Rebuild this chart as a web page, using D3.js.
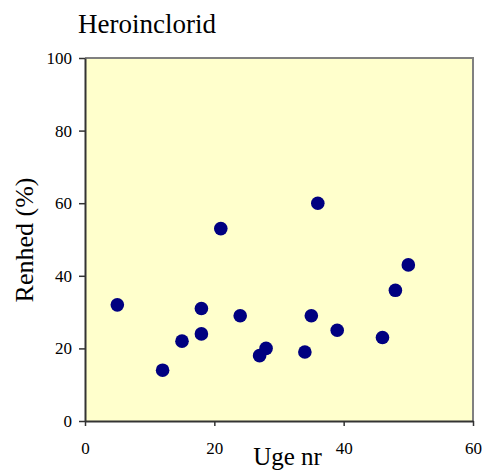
<!DOCTYPE html>
<html>
<head>
<meta charset="utf-8">
<script src="https://cdn.jsdelivr.net/npm/d3@7"></script>
<style>
  html, body { margin: 0; padding: 0; background: #fff; }
  svg { display: block; }
  svg text { font-family: "Liberation Serif", "Times New Roman", "DejaVu Serif", serif !important; fill: #000; }
</style>
</head>
<body>
<svg id="chart" width="484" height="473"></svg>
<script>
const title = "Heroinclorid";
const xLabel = "Uge nr";
const yLabel = "Renhed (%)";
const weeks  = [5, 12, 15, 18, 18, 21, 24, 27, 28, 34, 35, 36, 39, 46, 48, 50];
const purity = [32, 14, 22, 24, 31, 53, 29, 18, 20, 19, 29, 60, 25, 23, 36, 43];
const xTicks = [0, 20, 40, 60];
const yTicks = [0, 20, 40, 60, 80, 100];

const svg = d3.select("#chart");
const L = 85, R = 473, T = 58, B = 421;
const serif = '"Liberation Serif", "Times New Roman", serif';

const x = d3.scaleLinear().domain([0, 60]).range([L, R]);
const y = d3.scaleLinear().domain([0, 100]).range([B, T]);

// plot background
svg.append("rect").attr("x", L).attr("y", T).attr("width", R - L).attr("height", B - T)
  .attr("fill", "#FFFFCC");
// top & right border (gray)
svg.append("path").attr("d", `M${L},${T}H${R}V${B}`).attr("fill", "none")
  .attr("stroke", "#808080").attr("stroke-width", 2);

// axes
const yAxis = d3.axisLeft(y).tickValues(yTicks).tickSize(6).tickPadding(7).tickSizeOuter(0);
const gy = svg.append("g").attr("transform", `translate(${L},0)`).call(yAxis)
  .attr("font-family", serif).attr("font-size", 17);
gy.select(".domain").attr("stroke", "#333").attr("stroke-width", 2);
gy.selectAll(".tick line").attr("stroke", "#333").attr("stroke-width", 1.5);
gy.selectAll(".tick text").style("font-size", "17px").style("font-family", serif).attr("fill", "#000");

const xAxis = d3.axisBottom(x).tickValues(xTicks).tickSize(5).tickPadding(16).tickSizeOuter(0);
const gx = svg.append("g").attr("transform", `translate(0,${B})`).call(xAxis)
  .attr("font-family", serif).attr("font-size", 17);
gx.select(".domain").attr("stroke", "#333").attr("stroke-width", 2);
gx.selectAll(".tick line").attr("stroke", "#333").attr("stroke-width", 1.5);
gx.selectAll(".tick text").style("font-size", "17px").style("font-family", serif).attr("fill", "#000");

// points
svg.append("g").selectAll("circle").data(weeks.map((w, i) => [w, purity[i]]))
  .join("circle")
  .attr("cx", d => x(d[0])).attr("cy", d => y(d[1])).attr("r", 6.8)
  .attr("fill", "#000080");

// title & labels
svg.append("text").attr("x", 78).attr("y", 33).style("font-size", "27px").style("font-family", serif).text(title);
svg.append("text").attr("x", 287.5).attr("y", 465).attr("text-anchor", "middle")
  .style("font-size", "25px").style("font-family", serif).text(xLabel);
svg.append("text").attr("transform", "translate(33,240) rotate(-90)")
  .attr("text-anchor", "middle").style("font-size", "26px").style("font-family", serif).text(yLabel);
</script>
</body>
</html>
